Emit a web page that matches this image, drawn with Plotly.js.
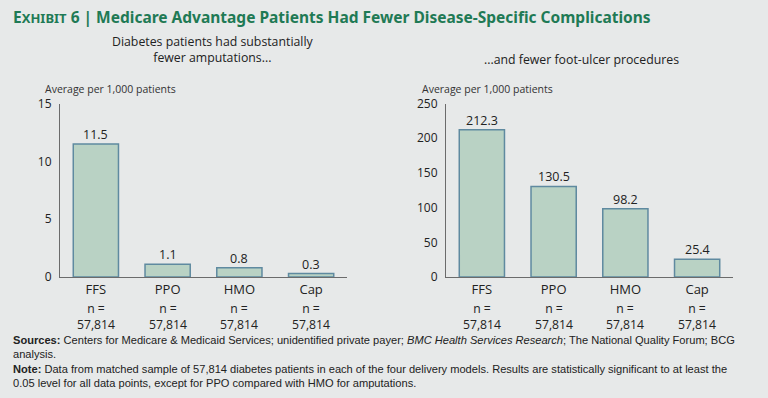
<!DOCTYPE html>
<html>
<head>
<meta charset="utf-8">
<script src="https://cdn.plot.ly/plotly-3.0.1.min.js"></script>
<style>html,body{margin:0;padding:0;background:#e7e9e9;}#chart{width:768px;height:398px;}</style>
</head>
<body>
<div id="chart"></div>
<script>
const categories = ["FFS", "PPO", "HMO", "Cap"];
const amputations = [11.5, 1.1, 0.8, 0.3];
const footUlcer = [212.3, 130.5, 98.2, 25.4];
const sampleSizes = ["57,814", "57,814", "57,814", "57,814"];
const amputationTicks = [0, 5, 10, 15];
const footUlcerTicks = [0, 50, 100, 150, 200, 250];

const W = 768, H = 398;
const px = v => v / W;
const py = v => 1 - v / H;

const barStyle = {
  color: "#b9d2c4",
  line: { color: "#5f8aa0", width: 1.5 }
};
const baseFont = "Open Sans, Noto Sans, sans-serif";
const valFont = { family: baseFont, size: 12.5, color: "#222" };

const traces = [
  {
    type: "bar", x: categories, y: amputations, xaxis: "x", yaxis: "y",
    marker: barStyle, width: 0.63, hoverinfo: "skip"
  },
  {
    type: "bar", x: categories, y: footUlcer, xaxis: "x2", yaxis: "y2",
    marker: barStyle, width: 0.63, hoverinfo: "skip"
  }
];

const yDom = [py(277), py(103.5)];
const axisCommon = {
  showgrid: false, zeroline: false, showline: true, linecolor: "#6b6b6b", linewidth: 1,
  ticks: "", fixedrange: true
};
const tickFont = { family: baseFont, size: 12, color: "#222" };
const catFont = { family: baseFont, size: 13, color: "#222" };

const annotations = [];
function addText(text, x, y, opts) {
  annotations.push(Object.assign({
    text: text, x: px(x), y: py(y), xref: "paper", yref: "paper",
    showarrow: false, xanchor: "left", yanchor: "middle",
    font: { family: baseFont, size: 12, color: "#222" }
  }, opts || {}));
}

// Title
addText("E<span style='font-size:13px'>XHIBIT</span> 6 | Medicare Advantage Patients Had Fewer Disease-Specific Complications",
  11, 17, { font: { family: "Noto Sans, Open Sans, sans-serif", size: 15.5, color: "#1f7a55", weight: 700 } });

// Subtitles
addText("Diabetes patients had substantially<br>fewer amputations...", 213, 50, { xanchor: "center", align: "center", font: { family: baseFont, size: 12.3, color: "#222" } });
addText("...and fewer foot-ulcer procedures", 581, 59, { xanchor: "center", font: { family: baseFont, size: 12.3, color: "#222" } });

// Axis captions
const capFont = { family: baseFont, size: 10.5, color: "#333" };
addText("Average per 1,000 patients", 43, 89, { font: capFont });
addText("Average per 1,000 patients", 420, 89, { font: capFont });

// Value labels and sample sizes
const nFont = { family: baseFont, size: 12.2, color: "#222" };
categories.forEach((c, i) => {
  [["x", "y", amputations], ["x2", "y2", footUlcer]].forEach(([ax, ay, vals]) => {
    annotations.push({
      text: vals[i].toFixed(1), x: c, xref: ax, y: vals[i], yref: ay,
      showarrow: false, xanchor: "center", yanchor: "bottom", yshift: -1,
      font: valFont
    });
    annotations.push({
      text: "n =<br>" + sampleSizes[i], x: c, xref: ax, y: py(316.5), yref: "paper",
      showarrow: false, xanchor: "center", yanchor: "middle", align: "center", font: nFont
    });
  });
});

// Footer
const footFont = { family: "Liberation Sans, Arial, sans-serif", size: 11.1, color: "#222" };
addText("<b>Sources:</b> Centers for Medicare &amp; Medicaid Services; unidentified private payer; <i>BMC Health Services Research</i>; The National Quality Forum; BCG",
  11, 340, { font: footFont });
addText("analysis.", 11, 354, { font: footFont });
addText("<b>Note:</b> Data from matched sample of 57,814 diabetes patients in each of the four delivery models. Results are statistically significant to at least the",
  11, 369, { font: footFont });
addText("0.05 level for all data points, except for PPO compared with HMO for amputations.", 11, 383, { font: footFont });

const layout = {
  width: W, height: H,
  margin: { l: 0, r: 0, t: 0, b: 0 },
  paper_bgcolor: "#e7e9e9", plot_bgcolor: "#e7e9e9",
  showlegend: false,
  xaxis: Object.assign({}, axisCommon, {
    domain: [px(60), px(347)], anchor: "y", tickfont: catFont, ticklabelstandoff: 0
  }),
  yaxis: Object.assign({}, axisCommon, {
    domain: yDom, anchor: "x", range: [0, 15], tickvals: amputationTicks,
    tickfont: tickFont, ticklabelstandoff: 5
  }),
  xaxis2: Object.assign({}, axisCommon, {
    domain: [px(446), px(733)], anchor: "y2", tickfont: catFont, ticklabelstandoff: 0
  }),
  yaxis2: Object.assign({}, axisCommon, {
    domain: yDom, anchor: "x2", range: [0, 250], tickvals: footUlcerTicks,
    tickfont: tickFont, ticklabelstandoff: 5
  }),
  annotations: annotations
};

Plotly.newPlot("chart", traces, layout, { displayModeBar: false, staticPlot: true });
</script>
</body>
</html>
